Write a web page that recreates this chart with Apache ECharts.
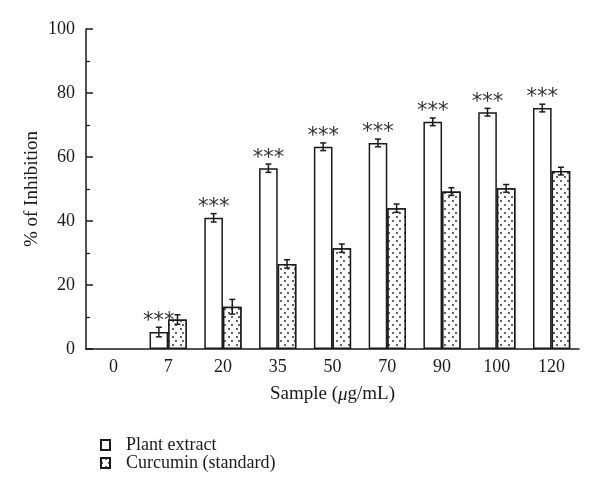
<!DOCTYPE html>
<html>
<head>
<meta charset="utf-8">
<script src="https://cdn.jsdelivr.net/npm/echarts@6/dist/echarts.min.js"></script>
<style>html,body{margin:0;padding:0;background:#fff}#c{width:600px;height:496px}</style>
</head>
<body>
<div id="c"></div>
<script>
var categories = ['0', '7', '20', '35', '50', '70', '90', '100', '120'];
var plantValues = [null, 5.3, 41.0, 56.5, 63.2, 64.4, 71.0, 74.0, 75.3];
var plantErrors = [null, 1.5, 1.3, 1.3, 1.2, 1.2, 1.2, 1.2, 1.2];
var curcuminValues = [null, 9.2, 13.2, 26.6, 31.5, 44.0, 49.2, 50.2, 55.6];
var curcuminErrors = [null, 1.5, 2.3, 1.3, 1.3, 1.3, 1.2, 1.2, 1.2];
var starLabels = [null, '***', '***', '***', '***', '***', '***', '***', '***'];
var yTicks = [0, 20, 40, 60, 80, 100];

var FONT = '"Liberation Serif", "DejaVu Serif", serif';
var INK = '#1a1a1a';

function errData(vals, errs) {
  var out = [];
  for (var i = 0; i < vals.length; i++) {
    if (vals[i] == null) continue;
    out.push([i, vals[i] - errs[i], vals[i] + errs[i], vals[i]]);
  }
  return out;
}

function makeErrRender(sign, withStars) {
  return function (params, api) {
    var idx = api.value(0);
    var lo = api.coord([idx, api.value(1)]);
    var hi = api.coord([idx, api.value(2)]);
    var band = api.size([1, 0])[0];
    var x = lo[0] + sign * band * 0.17;
    var cap = 3;
    var style = { stroke: INK, lineWidth: 1.5 };
    var children = [
      { type: 'line', shape: { x1: x, y1: lo[1], x2: x, y2: hi[1] }, style: style },
      { type: 'line', shape: { x1: x - cap, y1: lo[1], x2: x + cap, y2: lo[1] }, style: style },
      { type: 'line', shape: { x1: x - cap, y1: hi[1], x2: x + cap, y2: hi[1] }, style: style }
    ];
    if (withStars && starLabels[idx]) {
      var top = api.coord([idx, api.value(3)]);
      children.push({
        type: 'text',
        style: {
          text: starLabels[idx], x: x, y: top[1] - 10,
          align: 'center', verticalAlign: 'middle',
          font: '21px "DejaVu Sans", sans-serif', fill: '#333'
        }
      });
    }
    return { type: 'group', children: children };
  };
}

var chart = echarts.init(document.getElementById('c'), null, { renderer: 'canvas' });
chart.setOption({
  animation: false,
  backgroundColor: '#fff',
  textStyle: { fontFamily: FONT, color: INK },
  grid: { left: 86, right: 21, top: 29, bottom: 147 },
  legend: {
    orient: 'vertical', left: 100, top: 436, padding: 0,
    itemWidth: 9, itemHeight: 10, itemGap: 0,
    icon: 'rect',
    textStyle: { fontFamily: FONT, fontSize: 18, color: INK, padding: [0, 0, 0, 11] },
    data: ['Plant extract', 'Curcumin (standard)']
  },
  xAxis: {
    type: 'category',
    data: categories,
    axisLine: { lineStyle: { color: INK, width: 1.5 } },
    axisTick: { show: false },
    axisLabel: { fontFamily: FONT, fontSize: 18, color: INK, margin: 9 },
    name: 'Sample ({i|μ}g/mL)',
    nameLocation: 'middle',
    nameGap: 36,
    nameMoveOverlap: false,
    nameTextStyle: {
      fontFamily: FONT, fontSize: 19, color: INK,
      rich: { i: { fontFamily: FONT, fontSize: 19, fontStyle: 'italic', color: INK } }
    }
  },
  yAxis: {
    type: 'value',
    min: yTicks[0], max: yTicks[yTicks.length - 1], interval: 20,
    axisLine: { show: true, lineStyle: { color: INK, width: 1.5 } },
    axisTick: { show: true, inside: true, length: 7, lineStyle: { color: INK, width: 1.5 } },
    minorTick: { show: true, splitNumber: 2, length: 4, lineStyle: { color: INK, width: 1.2 } },
    splitLine: { show: false },
    axisLabel: { fontFamily: FONT, fontSize: 18, color: INK, margin: 11 },
    name: '% of Inhibition',
    nameLocation: 'middle',
    nameGap: 44,
    nameMoveOverlap: false,
    nameTextStyle: { fontFamily: FONT, fontSize: 19, color: INK }
  },
  series: [
    {
      name: 'Plant extract', type: 'bar',
      data: plantValues,
      barWidth: '34%', barGap: '0%',
      itemStyle: { color: '#fff', borderColor: INK, borderWidth: 1.5 }
    },
    {
      name: 'Curcumin (standard)', type: 'bar',
      data: curcuminValues,
      barWidth: '34%', barGap: '0%',
      itemStyle: {
        color: '#fff', borderColor: INK, borderWidth: 1.5,
        decal: {
          symbol: 'circle', symbolSize: 0.9, color: INK, backgroundColor: '#fff',
          dashArrayX: [[2, 4.5], [0, 3.25, 2, 1.25]],
          dashArrayY: [2, 1.5],
          rotation: 0
        }
      }
    },
    {
      type: 'custom', renderItem: makeErrRender(-1, true),
      data: errData(plantValues, plantErrors),
      encode: { x: 0, y: [1, 2] }, z: 5, silent: true
    },
    {
      type: 'custom', renderItem: makeErrRender(1, false),
      data: errData(curcuminValues, curcuminErrors),
      encode: { x: 0, y: [1, 2] }, z: 5, silent: true
    }
  ]
});
</script>
</body>
</html>
